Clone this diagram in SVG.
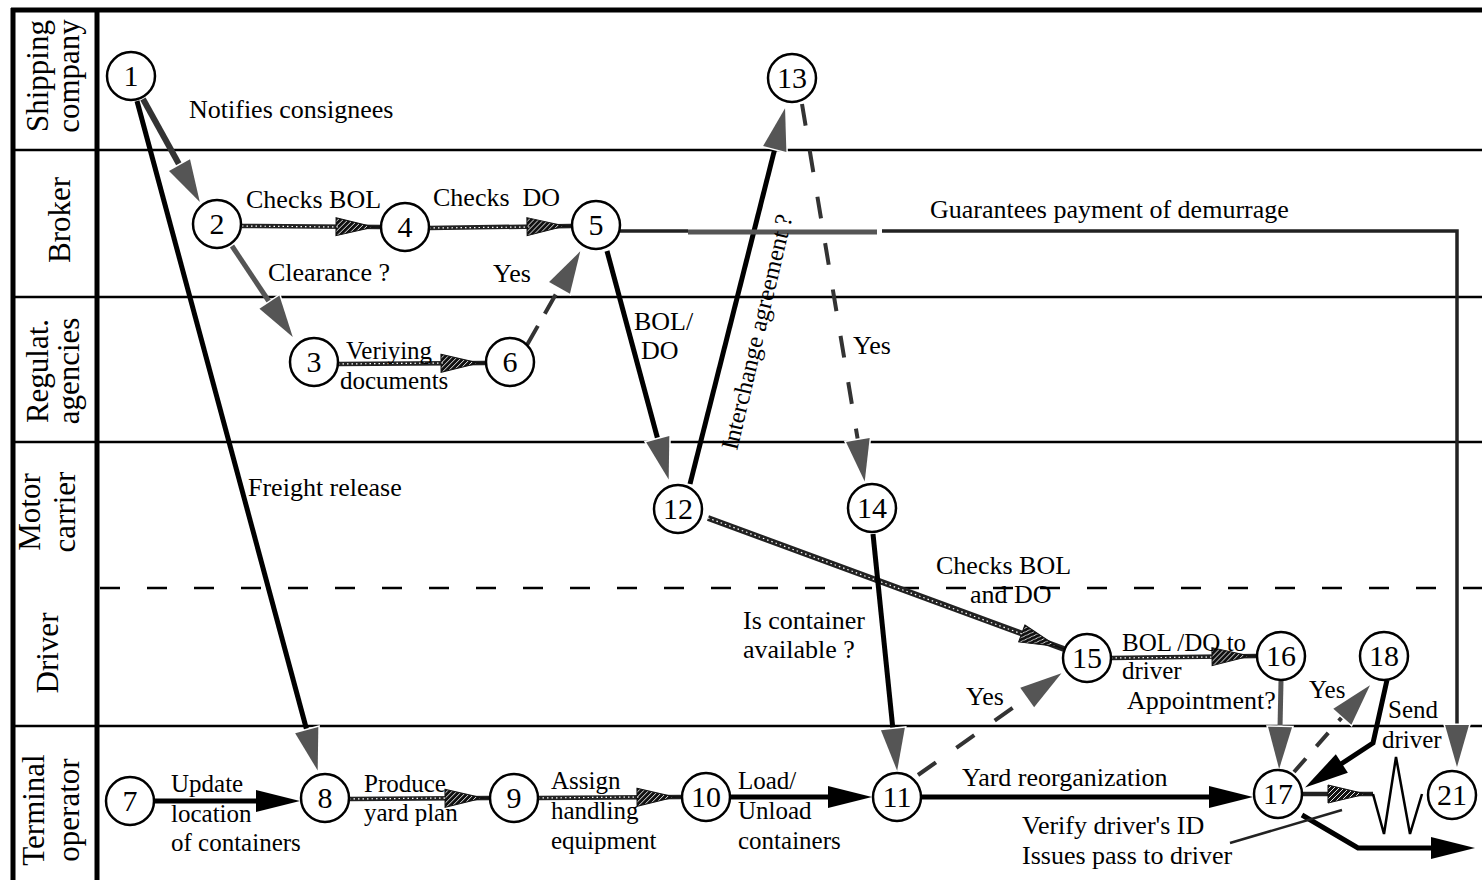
<svg xmlns="http://www.w3.org/2000/svg" width="1482" height="880" viewBox="0 0 1482 880">
<style>
text{font-family:"Liberation Serif","Times New Roman",serif;font-size:26px;fill:#000}
.sm{font-size:25px}
.lane{font-size:31px}
.num{font-size:30px;text-anchor:middle}
.ln{stroke:#000;stroke-width:2.5;fill:none}
.dash{stroke:#000;stroke-width:2.5;stroke-dasharray:20 27;fill:none}
.frame{stroke:#000;stroke-width:5;fill:none}
.blk{stroke:#000;stroke-width:5;fill:none}
.dark{stroke:#333;stroke-width:6;fill:none}
.gry{stroke:#555;stroke-width:5;fill:none}
.tex{stroke:#222;stroke-width:4.5;fill:none}
.texd{stroke:#333;stroke-width:4;fill:none;stroke-dasharray:22 25}
.dots{stroke:#fff;stroke-width:1.2;stroke-dasharray:1.5 3;fill:none}
.node circle{fill:#fff;stroke:#000;stroke-width:2.5}
.ga{marker-end:url(#mGray)}
.ba{marker-end:url(#mBlack)}
.ha{marker-end:url(#mHatch)}
</style>
<defs>
<pattern id="hatch" width="5" height="5" patternUnits="userSpaceOnUse"><rect x="-1" y="-1" width="7" height="7" fill="#111"/><path d="M-1,1 L1,-1 M0,5 L5,0 M4,6 L6,4" stroke="#fff" stroke-width="0.9"/></pattern>
<marker id="mGray" markerUnits="userSpaceOnUse" viewBox="0 0 42 24" markerWidth="42" markerHeight="24" refX="1" refY="12" orient="auto" overflow="visible"><path d="M0,0 L42,12 L0,24 Z" fill="#555" stroke="#fff" stroke-width="3" paint-order="stroke"/></marker>
<marker id="mBlack" markerUnits="userSpaceOnUse" viewBox="0 0 44 22" markerWidth="44" markerHeight="22" refX="1" refY="11" orient="auto" overflow="visible"><path d="M0,0 L44,11 L0,22 Z" fill="#000"/></marker>
<marker id="mHatch" markerUnits="userSpaceOnUse" viewBox="0 0 45 20" markerWidth="45" markerHeight="20" refX="45" refY="10" orient="auto" overflow="visible"><path d="M36,10 L45,10" stroke="#111" stroke-width="1.5"/><path d="M0,1 L38,10 L0,19 Z" fill="url(#hatch)" stroke="#111" stroke-width="1"/></marker>
</defs>
<rect width="1482" height="880" fill="#fff"/>
<g id="swimlanes">
<path class="frame" d="M11,10 L1482,10"/>
<path class="frame" d="M13,8 L13,880"/>
<path class="frame" d="M97,8 L97,880"/>
<path class="ln" d="M13,150 L1482,150"/>
<path class="ln" d="M13,297 L1482,297"/>
<path class="ln" d="M13,442 L1482,442"/>
<path class="dash" d="M100,588 L1482,588"/>
<path class="ln" d="M13,726 L1482,726"/>
<text class="lane" text-anchor="middle" transform="translate(48,76) rotate(-90)">Shipping</text>
<text class="lane" text-anchor="middle" transform="translate(79,76) rotate(-90)">company</text>
<text class="lane" text-anchor="middle" transform="translate(70,220) rotate(-90)">Broker</text>
<text class="lane" text-anchor="middle" transform="translate(48,371) rotate(-90)">Regulat.</text>
<text class="lane" text-anchor="middle" transform="translate(79,371) rotate(-90)">agencies</text>
<text class="lane" text-anchor="middle" transform="translate(40,512) rotate(-90)">Motor</text>
<text class="lane" text-anchor="middle" transform="translate(75,512) rotate(-90)">carrier</text>
<text class="lane" text-anchor="middle" transform="translate(58,653) rotate(-90)">Driver</text>
<text class="lane" text-anchor="middle" transform="translate(44,810) rotate(-90)">Terminal</text>
<text class="lane" text-anchor="middle" transform="translate(79,810) rotate(-90)">operator</text>
</g>
<g id="connectors">
<path class="dark ga" d="M143,99 L180,166"/>
<path class="blk ga" d="M137,101 L307,731"/>
<path class="gry ga" d="M232,246 L270,303"/>
<path class="tex ha" d="M242,226 L381,227"/>
<path class="dots" d="M242,226 L340,227"/>
<path class="tex ha" d="M429,228 L572,226"/>
<path class="dots" d="M429,228 L530,227"/>
<path class="tex ha" d="M338,364 L486,363"/>
<path class="dots" d="M338,364 L444,363"/>
<path class="texd ga" style="stroke-dasharray:22 14" d="M527,345 L560,287"/>
<path class="blk ga" d="M607,251 L658,440"/>
<path class="blk ga" d="M690,484 L775,148"/>
<path class="texd ga" d="M802,104 L858,441"/>
<path class="tex" style="stroke-width:3.5" d="M620,231 L688,231"/>
<path class="gry" d="M688,232 L877,232"/>
<path class="tex ga" style="stroke-width:3.5" d="M882,231 L1457,231 L1457,726"/>
<path class="tex ha" style="stroke-width:6" d="M708,518 L1064,649"/>
<path class="dots" d="M708,518 L1022,634"/>
<path class="blk ga" d="M873,534 L893,730"/>
<path class="texd ga" d="M918,775 L1028,697"/>
<path class="tex ha" d="M1111,658 L1257,656"/>
<path class="dots" d="M1111,658 L1214,657"/>
<path class="gry ga" d="M1281,681 L1280,728"/>
<path class="texd ga" style="stroke-dasharray:18 16" d="M1294,772 L1343,716"/>
<path class="blk ba" d="M1387,680 L1373,743 L1341,764"/>
<path class="blk ba" d="M922,797 L1210,797"/>
<path class="tex ha" d="M1302,794 L1373,794"/>
<path class="ln" d="M1373,794 L1384,834 L1396,757 L1410,834 L1422,794"/>
<path class="blk ba" d="M1302,815 L1358,848 L1432,848"/>
<path class="tex" style="stroke-width:2.5" d="M1230,843 L1342,810"/>
<path class="blk ba" d="M155,801 L257,801"/>
<path class="tex ha" d="M349,799 L490,798"/>
<path class="dots" d="M349,799 L448,798"/>
<path class="tex ha" d="M538,798 L682,797"/>
<path class="dots" d="M538,798 L640,797"/>
<path class="blk ba" d="M730,797 L829,797"/>
</g>
<g id="edge-labels">
<text x="189" y="118">Notifies consignees</text>
<text x="246" y="208">Checks BOL</text>
<text x="433" y="206" xml:space="preserve">Checks  DO</text>
<text x="268" y="281">Clearance ?</text>
<text x="493" y="282">Yes</text>
<text x="930" y="218">Guarantees payment of demurrage</text>
<text class="sm" x="346" y="359">Veriying</text>
<text class="sm" x="340" y="389">documents</text>
<text x="634" y="330">BOL/</text>
<text x="641" y="359">DO</text>
<text x="853" y="354">Yes</text>
<text style="font-size:24.5px" transform="translate(737,451) rotate(-76.7)">Interchange agreement ?</text>
<text x="248" y="496">Freight release</text>
<text x="936" y="574">Checks BOL</text>
<text x="970" y="603">and DO</text>
<text x="743" y="629">Is container</text>
<text x="743" y="658">available ?</text>
<text x="966" y="705">Yes</text>
<text class="sm" x="1122" y="651">BOL /DO to</text>
<text class="sm" x="1122" y="679">driver</text>
<text x="1127" y="709">Appointment?</text>
<text class="sm" x="1309" y="698">Yes</text>
<text class="sm" x="1388" y="718">Send</text>
<text class="sm" x="1382" y="748">driver</text>
<text x="962" y="786">Yard reorganization</text>
<text x="1022" y="834">Verify driver's ID</text>
<text x="1022" y="864">Issues pass to driver</text>
<text class="sm" x="171" y="792">Update</text>
<text class="sm" x="171" y="822">location</text>
<text class="sm" x="171" y="851">of containers</text>
<text class="sm" x="364" y="792">Produce</text>
<text class="sm" x="364" y="821">yard plan</text>
<text class="sm" x="551" y="789">Assign</text>
<text class="sm" x="551" y="819">handling</text>
<text class="sm" x="551" y="849">equipment</text>
<text class="sm" x="738" y="789">Load/</text>
<text class="sm" x="738" y="819">Unload</text>
<text class="sm" x="738" y="849">containers</text>
</g>
<g id="n1" class="node"><circle cx="131" cy="76" r="24"/><text class="num" x="131" y="86">1</text></g>
<g id="n2" class="node"><circle cx="217" cy="224" r="24"/><text class="num" x="217" y="234">2</text></g>
<g id="n3" class="node"><circle cx="314" cy="362" r="24"/><text class="num" x="314" y="372">3</text></g>
<g id="n4" class="node"><circle cx="405" cy="227" r="24"/><text class="num" x="405" y="237">4</text></g>
<g id="n5" class="node"><circle cx="596" cy="225" r="24"/><text class="num" x="596" y="235">5</text></g>
<g id="n6" class="node"><circle cx="510" cy="362" r="24"/><text class="num" x="510" y="372">6</text></g>
<g id="n7" class="node"><circle cx="130" cy="801" r="24"/><text class="num" x="130" y="811">7</text></g>
<g id="n8" class="node"><circle cx="325" cy="798" r="24"/><text class="num" x="325" y="808">8</text></g>
<g id="n9" class="node"><circle cx="514" cy="798" r="24"/><text class="num" x="514" y="808">9</text></g>
<g id="n10" class="node"><circle cx="706" cy="797" r="24"/><text class="num" x="706" y="807">10</text></g>
<g id="n11" class="node"><circle cx="897" cy="797" r="24"/><text class="num" x="897" y="807">11</text></g>
<g id="n12" class="node"><circle cx="678" cy="509" r="24"/><text class="num" x="678" y="519">12</text></g>
<g id="n13" class="node"><circle cx="792" cy="78" r="24"/><text class="num" x="792" y="88">13</text></g>
<g id="n14" class="node"><circle cx="872" cy="508" r="24"/><text class="num" x="872" y="518">14</text></g>
<g id="n15" class="node"><circle cx="1087" cy="658" r="24"/><text class="num" x="1087" y="668">15</text></g>
<g id="n16" class="node"><circle cx="1281" cy="656" r="24"/><text class="num" x="1281" y="666">16</text></g>
<g id="n17" class="node"><circle cx="1278" cy="794" r="24"/><text class="num" x="1278" y="804">17</text></g>
<g id="n18" class="node"><circle cx="1384" cy="656" r="24"/><text class="num" x="1384" y="666">18</text></g>
<g id="n21" class="node"><circle cx="1452" cy="795" r="24"/><text class="num" x="1452" y="805">21</text></g>
</svg>
